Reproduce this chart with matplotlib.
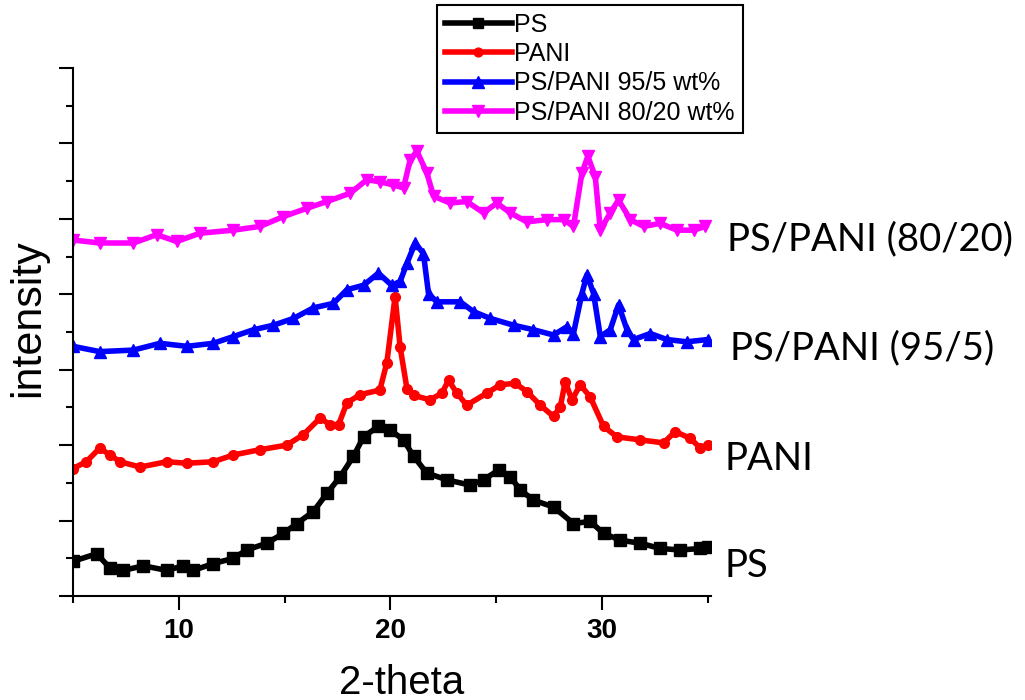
import matplotlib
matplotlib.use("Agg")
import matplotlib.pyplot as plt
from matplotlib.ticker import MultipleLocator

# ---- data (2-theta, intensity in stacked arbitrary units) ----
ps_x = [5.0, 6.12, 6.75, 7.38, 8.33, 9.43, 10.22, 10.69, 11.63, 12.58, 13.21, 14.16, 14.94,
        15.58, 16.36, 17.0, 17.62, 18.25, 18.73, 19.43, 19.99, 20.62, 21.1, 21.72, 22.67,
        23.77, 24.4, 25.11, 25.66, 26.13, 26.76, 27.71, 28.65, 29.44, 30.07, 30.86, 31.8,
        32.75, 33.7, 34.65, 35.0]
ps_y = [0.46, 0.56, 0.37, 0.34, 0.40, 0.34, 0.40, 0.34, 0.43, 0.50, 0.61, 0.70, 0.83,
        0.96, 1.12, 1.36, 1.58, 1.85, 2.11, 2.25, 2.20, 2.07, 1.85, 1.63, 1.54,
        1.47, 1.54, 1.67, 1.58, 1.41, 1.27, 1.18, 0.96, 0.99, 0.83, 0.74, 0.70,
        0.63, 0.61, 0.63, 0.65]

pani_x = [5.0, 5.63, 6.26, 6.75, 7.22, 8.17, 9.43, 10.38, 11.63, 12.58, 13.84, 15.1, 15.89,
          16.68, 17.15, 17.55, 17.94, 18.57, 19.5, 19.83, 20.22, 20.46, 20.78, 21.1, 21.88,
          22.43, 22.75, 23.14, 23.61, 24.56, 25.19, 25.9, 26.45, 27.08, 27.71, 28.03, 28.26,
          28.58, 28.97, 29.44, 30.07, 30.7, 31.8, 32.91, 33.46, 34.17, 34.65, 35.0]
pani_y = [1.69, 1.78, 1.96, 1.87, 1.78, 1.71, 1.78, 1.76, 1.78, 1.87, 1.94, 2.00, 2.14,
          2.36, 2.27, 2.27, 2.56, 2.67, 2.73, 3.09, 3.97, 3.30, 2.75, 2.66, 2.60,
          2.69, 2.86, 2.69, 2.53, 2.69, 2.80, 2.82, 2.71, 2.53, 2.38, 2.51, 2.84,
          2.60, 2.80, 2.64, 2.25, 2.11, 2.07, 2.03, 2.18, 2.09, 1.96, 2.00]

b_x = [5.0, 6.26, 7.85, 9.11, 10.38, 11.63, 12.58, 13.53, 14.47, 15.42, 16.36, 17.31, 17.94,
       18.73, 19.43, 20.06, 20.46, 20.78, 21.17, 21.56, 21.8, 22.19, 23.3, 23.93, 24.72,
       25.82, 26.76, 27.71, 28.34, 28.65, 29.05, 29.29, 29.6, 29.92, 30.39, 30.78, 31.18,
       31.49, 32.28, 33.07, 34.01, 35.0]
b_y = [3.31, 3.24, 3.26, 3.35, 3.31, 3.35, 3.44, 3.53, 3.59, 3.68, 3.82, 3.88, 4.06,
       4.12, 4.28, 4.12, 4.17, 4.41, 4.68, 4.54, 4.01, 3.90, 3.90, 3.77, 3.68,
       3.59, 3.53, 3.46, 3.57, 3.48, 4.01, 4.26, 4.01, 3.44, 3.53, 3.86, 3.53,
       3.40, 3.48, 3.40, 3.37, 3.40]

m_x = [5.0, 6.26, 7.85, 8.96, 9.9, 11.0, 12.58, 13.84, 14.94, 16.05, 17.0, 18.1, 18.89,
       19.52, 20.14, 20.62, 20.93, 21.25, 21.72, 22.04, 22.82, 23.61, 24.4, 25.03, 25.66,
       26.45, 27.4, 28.18, 28.65, 29.05, 29.33, 29.68, 29.92, 30.39, 30.78, 31.34, 31.97,
       32.75, 33.54, 34.33, 34.88]
m_y = [4.72, 4.68, 4.68, 4.79, 4.70, 4.81, 4.85, 4.90, 5.03, 5.14, 5.23, 5.34, 5.52,
       5.49, 5.45, 5.41, 5.78, 5.90, 5.61, 5.30, 5.21, 5.23, 5.08, 5.21, 5.08,
       4.96, 4.99, 4.99, 4.90, 5.61, 5.83, 5.56, 4.85, 5.08, 5.25, 4.99, 4.90,
       4.94, 4.85, 4.85, 4.90]

legend_labels = ["PS", "PANI", "PS/PANI 95/5 wt%", "PS/PANI 80/20 wt%"]
side_labels = ["PS", "PANI", "PS/PANI (95/5)", "PS/PANI (80/20)"]
x_ticks = [10, 20, 30]

W, H = 1025, 700
fig = plt.figure(figsize=(W / 100, H / 100), dpi=100)
ax = fig.add_axes([73 / W, 1 - 596 / H, (711 - 73) / W, (596 - 68) / H])

sans = "Liberation Sans"
series = [
    (ps_x, ps_y, "#000000", "s", 8),
    (pani_x, pani_y, "#ff0000", "o", 7),
    (b_x, b_y, "#0000ff", "^", 9),
    (m_x, m_y, "#ff00ff", "v", 9),
]
handles = []
for (xs, ys, c, mk, ms), lab in zip(series, legend_labels):
    h, = ax.plot(xs, ys, color=c, lw=4, marker=mk, ms=ms, mec=c, mfc=c, label=lab)
    handles.append(h)

ax.set_xlim(5, 35.15)
ax.set_ylim(0, 7)
ax.xaxis.set_major_locator(MultipleLocator(10))
ax.xaxis.set_minor_locator(MultipleLocator(5))
ax.set_xticks(x_ticks)
ax.yaxis.set_major_locator(MultipleLocator(1))
ax.yaxis.set_minor_locator(MultipleLocator(0.5))
ax.set_yticklabels([])
ax.tick_params(axis="both", which="major", direction="out", length=10, width=1.5,
               labelsize=20, pad=6)
ax.tick_params(axis="both", which="minor", direction="out", length=5, width=1.5)
for lab in ax.get_xticklabels():
    lab.set_fontfamily(sans)
    lab.set_fontweight("bold")
for s in ["top", "right"]:
    ax.spines[s].set_visible(False)
for s in ["left", "bottom"]:
    ax.spines[s].set_linewidth(1.5)

fig.text(28 / W, 1 - 318 / H, "intensity", rotation=90, ha="center", va="center",
         fontsize=31, family=sans)
fig.text(402 / W, 1 - 683 / H, "2-theta", ha="center", va="center",
         fontsize=29, family=sans)

side_pos = [(725, 577), (725, 470), (730, 359), (727, 250)]
for txt, (px, py) in zip(side_labels, side_pos):
    fig.text(px / W, 1 - py / H, txt, ha="left", va="baseline", fontsize=27.5,
             family="Lato")

leg = fig.legend(handles=handles, loc="upper left",
                 bbox_to_anchor=(437 / W, 1 - 5 / H), bbox_transform=fig.transFigure,
                 prop={"family": sans, "size": 18}, frameon=True, fancybox=False,
                 edgecolor="black", framealpha=1, borderpad=0.3, labelspacing=0.22,
                 handlelength=2.7, handletextpad=0.1, numpoints=1, borderaxespad=0,
                 markerscale=0.9)
leg.get_frame().set_linewidth(1.5)

fig.savefig("out.png", dpi=100)
